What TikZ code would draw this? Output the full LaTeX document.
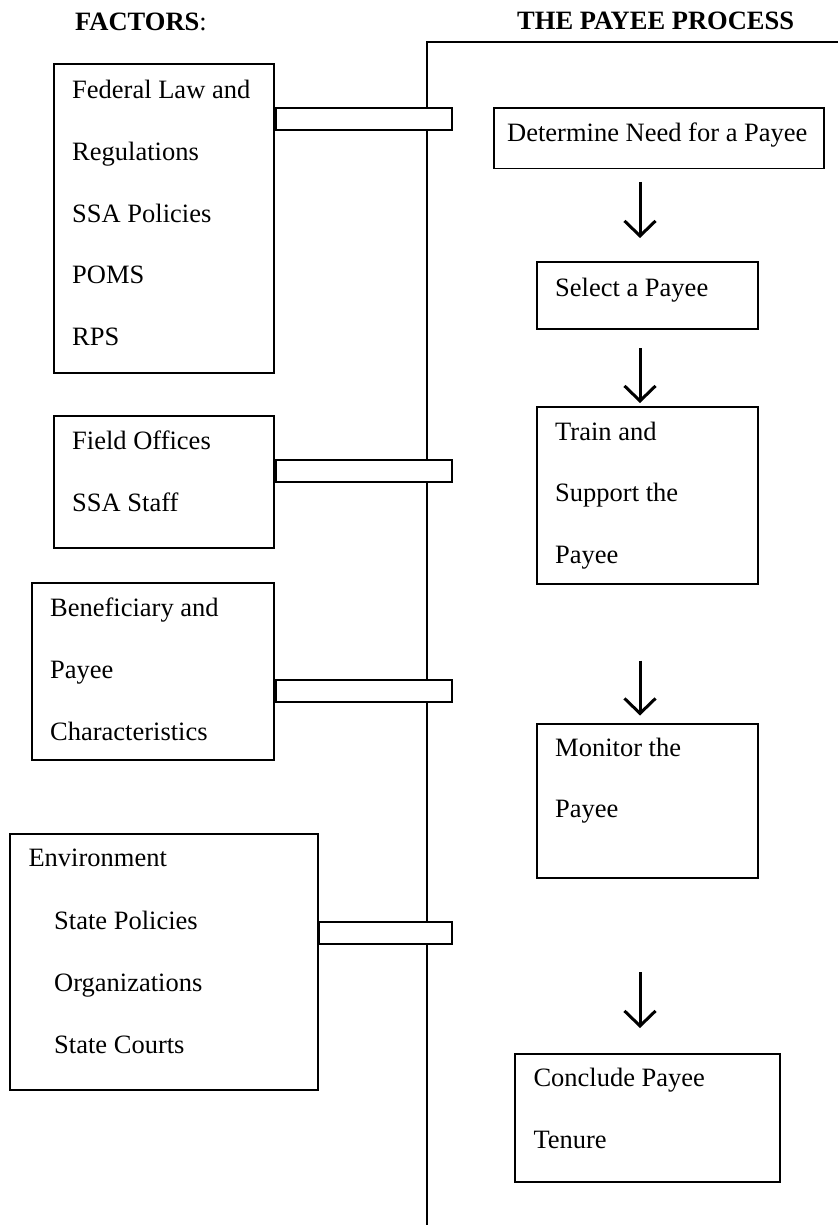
\documentclass[tikz,border=0pt]{standalone}
\usepackage{fontspec}
\setmainfont{Liberation Serif}
\usetikzlibrary{arrows.meta}
\begin{document}
\begin{tikzpicture}[x=1pt,y=-1pt,
  every node/.style={font=\fontsize{26.5}{30}\selectfont},
  box/.style={draw, line width=1.8pt, fill=white, inner sep=0pt, anchor=north west},
  txt/.style={inner sep=0pt, anchor=base west},
  barbox/.style={draw, line width=1.8pt, fill=white, inner sep=0pt, anchor=north west, minimum width=176pt, minimum height=22pt},
  flowarrow/.style={line width=3pt, -{Straight Barb[length=15pt, width=31pt, line width=3pt]}}
]
\useasboundingbox (0,0) rectangle (838,1225);
% headers
\node[txt] (hf) at (75,30.5) {\textbf{FACTORS}:};
\node[txt] (hp) at (517,30) {\textbf{THE PAYEE PROCESS}};
% process frame
\coordinate (fbot) at (427,1225);
\coordinate (fcorner) at (427,42);
\coordinate (fright) at (838,42);
\draw[line width=1.8pt] (fbot) -- (fcorner) -- (fright);
% factor boxes
\node[box, minimum width=220pt, minimum height=309pt] (fed) at (53,63) {};
\node[txt] (fed1) at (72,99) {Federal Law and};
\node[txt] (fed2) at (72,160.5) {Regulations};
\node[txt] (fed3) at (72,222.5) {SSA Policies};
\node[txt] (fed4) at (72,283.5) {POMS};
\node[txt] (fed5) at (72,345) {RPS};

\node[box, minimum width=220pt, minimum height=132pt] (fo) at (53,415) {};
\node[txt] (fo1) at (72,449.5) {Field Offices};
\node[txt] (fo2) at (72,511) {SSA Staff};

\node[box, minimum width=242.5pt, minimum height=177pt] (ben) at (30.7,582.3) {};
\node[txt] (ben1) at (50,616.7) {Beneficiary and};
\node[txt] (ben2) at (50,678.3) {Payee};
\node[txt] (ben3) at (50,740) {Characteristics};

\node[box, minimum width=307.4pt, minimum height=256pt] (env) at (9.3,833.3) {};
\node[txt] (env1) at (28.3,866.7) {Environment};
\node[txt] (env2) at (54,929.3) {State Policies};
\node[txt] (env3) at (54,991.5) {Organizations};
\node[txt] (env4) at (54,1053) {State Courts};

% bars linking factors to the process line
\node[barbox] (b1) at (fed.east |- 0,107.5) {};
\node[barbox] (b2) at (fo.east |- 0,459.3) {};
\node[barbox] (b3) at (ben.east |- 0,679.3) {};
\node[barbox, minimum width=132.6pt] (b4) at (env.east |- 0,920.7) {};

% process boxes
\node[box, minimum width=330pt, minimum height=60.4pt] (det) at (492.7,107.3) {};
\node[txt] (det1) at (507,141.7) {Determine Need for a Payee};

\node[box, minimum width=220.7pt, minimum height=66.4pt] (sel) at (536.3,261.3) {};
\node[txt] (sel1) at (555,296) {Select a Payee};

\node[box, minimum width=220.7pt, minimum height=176.7pt] (tr) at (536.3,406) {};
\node[txt] (tr1) at (555,440.7) {Train and};
\node[txt] (tr2) at (555,501.7) {Support the};
\node[txt] (tr3) at (555,563) {Payee};

\node[box, minimum width=220.7pt, minimum height=154.3pt] (mon) at (536.3,722.7) {};
\node[txt] (mon1) at (555,756.7) {Monitor the};
\node[txt] (mon2) at (555,817.5) {Payee};

\node[box, minimum width=264.4pt, minimum height=128pt] (con) at (514.3,1052.7) {};
\node[txt] (con1) at (533.3,1086.7) {Conclude Payee};
\node[txt] (con2) at (533.3,1148) {Tenure};

% arrows
\coordinate (a1s) at (640,182);   \coordinate (a1e) at (640,238);
\coordinate (a2s) at (640,348.3); \coordinate (a2e) at (640,403);
\coordinate (a3s) at (640,660.7); \coordinate (a3e) at (640,715.5);
\coordinate (a4s) at (640,972.3); \coordinate (a4e) at (640,1028);
\draw[flowarrow] (a1s) -- (a1e);
\draw[flowarrow] (a2s) -- (a2e);
\draw[flowarrow] (a3s) -- (a3e);
\draw[flowarrow] (a4s) -- (a4e);
\end{tikzpicture}
\end{document}
